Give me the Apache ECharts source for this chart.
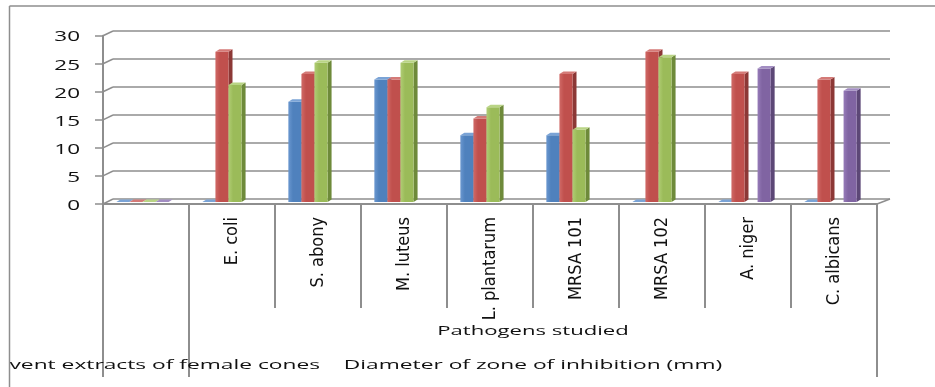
<!DOCTYPE html>
<html>
<head>
<meta charset="utf-8">
<script src="https://cdn.jsdelivr.net/npm/echarts@6/dist/echarts.min.js"></script>
<style>
  html, body { margin: 0; padding: 0; background: #fff; }
  #chart { width: 935px; height: 387px; }
</style>
</head>
<body>
<div id="chart"></div>
<script>
// ---- data ----
const categories = ['', 'E. coli', 'S. abony', 'M. luteus', 'L. plantarum', 'MRSA 101', 'MRSA 102', 'A. niger', 'C. albicans'];
const seriesBlue   = [0, 0, 18, 22, 12, 12, 0, 0, 0];
const seriesRed    = [0, 27, 23, 22, 15, 23, 27, 23, 22];
const seriesGreen  = [0, 21, 25, 25, 17, 13, 26, null, null];
const seriesPurple = [0, null, null, null, null, null, null, 24, 20];
const yTicks = [0, 5, 10, 15, 20, 25, 30];
const groupLevel2 = [{ text: '', from: 0, to: 0 }, { text: 'Pathogens studied', from: 1, to: 8 }];
const groupLevel3 = [{ text: 'Solvent extracts of female cones', from: 0, to: 0 },
                     { text: 'Diameter of zone of inhibition (mm)', from: 1, to: 8 }];

// ---- styling ----
const GRID_GRAY = '#8e8e8e';
const palette = [
  { face: '#4F81BD', light: '#6a97cf', side: '#385D8A', top: '#7aa3d6' },
  { face: '#C0504D', light: '#d06966', side: '#8C3836', top: '#d47a77' },
  { face: '#9BBB59', light: '#b0cd74', side: '#6E8A3A', top: '#b9d485' },
  { face: '#8064A2', light: '#967bb8', side: '#5C4776', top: '#a28dc2' }
];
const H_FONT = '"Open Sans", "Liberation Sans", sans-serif';
const CAT_FONT = '"Liberation Sans Narrow", "DejaVu Sans Condensed", "Roboto Condensed", sans-serif';
const CLIP_X = 9.5;

const chart = echarts.init(document.getElementById('chart'), null, { renderer: 'canvas' });

// 3D-looking column: front face, right side face and top face
function makeRender(slot) {
  const col = palette[slot];
  return function (params, api) {
    const i = api.value(0);
    const v = api.value(1);
    const p0 = api.coord([i, 0]);
    const p1 = api.coord([i, v]);
    const band = api.size([1, 0])[0];
    const w = band * 0.152;
    const x0 = p0[0] + (slot - 2) * w;
    const base = p0[1], top = p1[1];
    const d = 4, dy = 2.5;
    return {
      type: 'group',
      children: [
        { type: 'polygon',
          shape: { points: [[x0 + w, top], [x0 + w + d, top - dy], [x0 + w + d, base - dy], [x0 + w, base]] },
          style: { fill: col.side } },
        { type: 'rect',
          shape: { x: x0, y: top, width: w, height: base - top },
          style: { fill: { type: 'linear', x: 0, y: 0, x2: 1, y2: 0,
                           colorStops: [{ offset: 0, color: col.light }, { offset: 0.35, color: col.face }, { offset: 1, color: col.face }] } } },
        { type: 'polygon',
          shape: { points: [[x0, top], [x0 + w, top], [x0 + w + d, top - dy], [x0 + d, top - dy]] },
          style: { fill: col.top } }
      ]
    };
  };
}

function toData(values) {
  const out = [];
  values.forEach((v, i) => { if (v !== null && v !== undefined) out.push([i, v]); });
  return out;
}

const allSeries = [seriesBlue, seriesRed, seriesGreen, seriesPurple];

chart.setOption({
  animation: false,
  backgroundColor: '#ffffff',
  grid: [
    { left: 113, top: 31, width: 777, height: 168 },       // back wall
    { left: 103, top: 35.7, width: 774, height: 168.3 },   // front plane
    { left: 99.5, top: 35, width: 774, height: 167 }       // columns (mid depth)
  ],
  xAxis: [
    { gridIndex: 0, type: 'category', data: categories, show: false },
    { gridIndex: 1, type: 'category', data: categories,
      axisLine: { show: true, lineStyle: { color: GRID_GRAY, width: 2 } },
      axisTick: { show: true, length: 104, lineStyle: { color: GRID_GRAY, width: 2 } },
      axisLabel: { interval: 0, rotate: 90, margin: 13, fontFamily: CAT_FONT, fontSize: 18, color: '#111' } },
    { gridIndex: 2, type: 'category', data: categories, show: false }
  ],
  yAxis: [
    { gridIndex: 0, type: 'value', min: 0, max: 30, interval: 5,
      axisLine: { show: false }, axisTick: { show: false }, axisLabel: { show: false },
      splitLine: { show: true, lineStyle: { color: GRID_GRAY, width: 1.5 } } },
    { gridIndex: 1, type: 'value', min: 0, max: 30, interval: 5,
      axisLine: { show: true, lineStyle: { color: GRID_GRAY, width: 2 } },
      axisTick: { show: true, length: 8, lineStyle: { color: GRID_GRAY, width: 1.5 } },
      axisLabel: { show: false }, splitLine: { show: false } },
    { gridIndex: 2, type: 'value', min: 0, max: 30, show: false, splitLine: { show: false } }
  ],
  series: allSeries.map((vals, k) => ({
    type: 'custom',
    name: 'Series ' + (k + 1),
    xAxisIndex: 2, yAxisIndex: 2,
    renderItem: makeRender(k),
    encode: { x: 0, y: 1 },
    data: toData(vals),
    z: 3 + k
  }))
});

// ---- decorations placed from the axes' own scales ----
const yFront = v => chart.convertToPixel({ yAxisIndex: 1 }, v);
const yBack = v => chart.convertToPixel({ yAxisIndex: 0 }, v);
const xF = i => chart.convertToPixel({ xAxisIndex: 1 }, i);
const xB = i => chart.convertToPixel({ xAxisIndex: 0 }, i);
const bandF = xF(1) - xF(0);
const bandB = xB(1) - xB(0);
const frontLeft = xF(0) - bandF / 2;
const frontRight = xF(categories.length - 1) + bandF / 2;
const backLeft = xB(0) - bandB / 2;
const backRight = xB(categories.length - 1) + bandB / 2;
const floorY = yFront(0);

const measureCtx = document.createElement('canvas').getContext('2d');
function measure(text, font) { measureCtx.font = font; return measureCtx.measureText(text).width; }

const lineStyle = { stroke: GRID_GRAY, lineWidth: 1.5 };
const graphics = [];

// connectors from the front ticks to the back wall, plus tick labels
yTicks.forEach(v => {
  graphics.push({ type: 'line', z: 5, shape: { x1: frontLeft, y1: yFront(v), x2: backLeft, y2: yBack(v) }, style: lineStyle });
  graphics.push({
    type: 'text', z: 10, x: 80, y: yFront(v) + 1.5, scaleX: 1.5,
    style: { text: String(v), font: '15px ' + H_FONT, fill: '#111', align: 'right', verticalAlign: 'middle' }
  });
});
// right edge of the floor
graphics.push({ type: 'line', z: 5, shape: { x1: frontRight, y1: floorY, x2: backRight, y2: yBack(0) }, style: lineStyle });

// long dividers between label groups
const longEdges = [];
groupLevel3.forEach(g => { longEdges.push(g.from); longEdges.push(g.to + 1); });
[...new Set(longEdges)].forEach(idx => {
  const x = frontLeft + idx * bandF;
  graphics.push({ type: 'line', z: 5, shape: { x1: x, y1: floorY, x2: x, y2: floorY + 173 },
                  style: { stroke: GRID_GRAY, lineWidth: 2 } });
});

// group labels under the category axis
const GROUP_FONT = '13px ' + H_FONT;
function groupText(g, y, sx) {
  if (!g.text) return;
  let cx = frontLeft + ((g.from + g.to + 1) / 2) * bandF;
  const full = measure(g.text, GROUP_FONT) * sx;
  // a label wider than the chart area is pushed right up to the clipping edge
  if (cx - full / 2 < CLIP_X) {
    const hidden = measure(g.text.slice(0, 3), GROUP_FONT) * sx;
    cx = CLIP_X - hidden + full / 2;
  }
  graphics.push({
    type: 'text', z: 10, x: cx, y: y, scaleX: sx,
    style: { text: g.text, font: GROUP_FONT, fill: '#111', align: 'center', verticalAlign: 'middle' }
  });
}
groupLevel2.forEach(g => groupText(g, floorY + 127, 1.7));
groupLevel3.forEach(g => groupText(g, floorY + 161, 1.75));

// chart area frame (text running past it is hidden)
graphics.push({ type: 'rect', z: 20, shape: { x: 0, y: 0, width: CLIP_X - 0.5, height: 387 }, style: { fill: '#fff' } });
graphics.push({ type: 'line', z: 21, shape: { x1: CLIP_X, y1: 6, x2: 935, y2: 6 }, style: { stroke: GRID_GRAY, lineWidth: 1.5 } });
graphics.push({ type: 'line', z: 21, shape: { x1: CLIP_X, y1: 6, x2: CLIP_X, y2: 387 }, style: { stroke: GRID_GRAY, lineWidth: 1.5 } });

chart.setOption({ graphic: graphics });
</script>
</body>
</html>
